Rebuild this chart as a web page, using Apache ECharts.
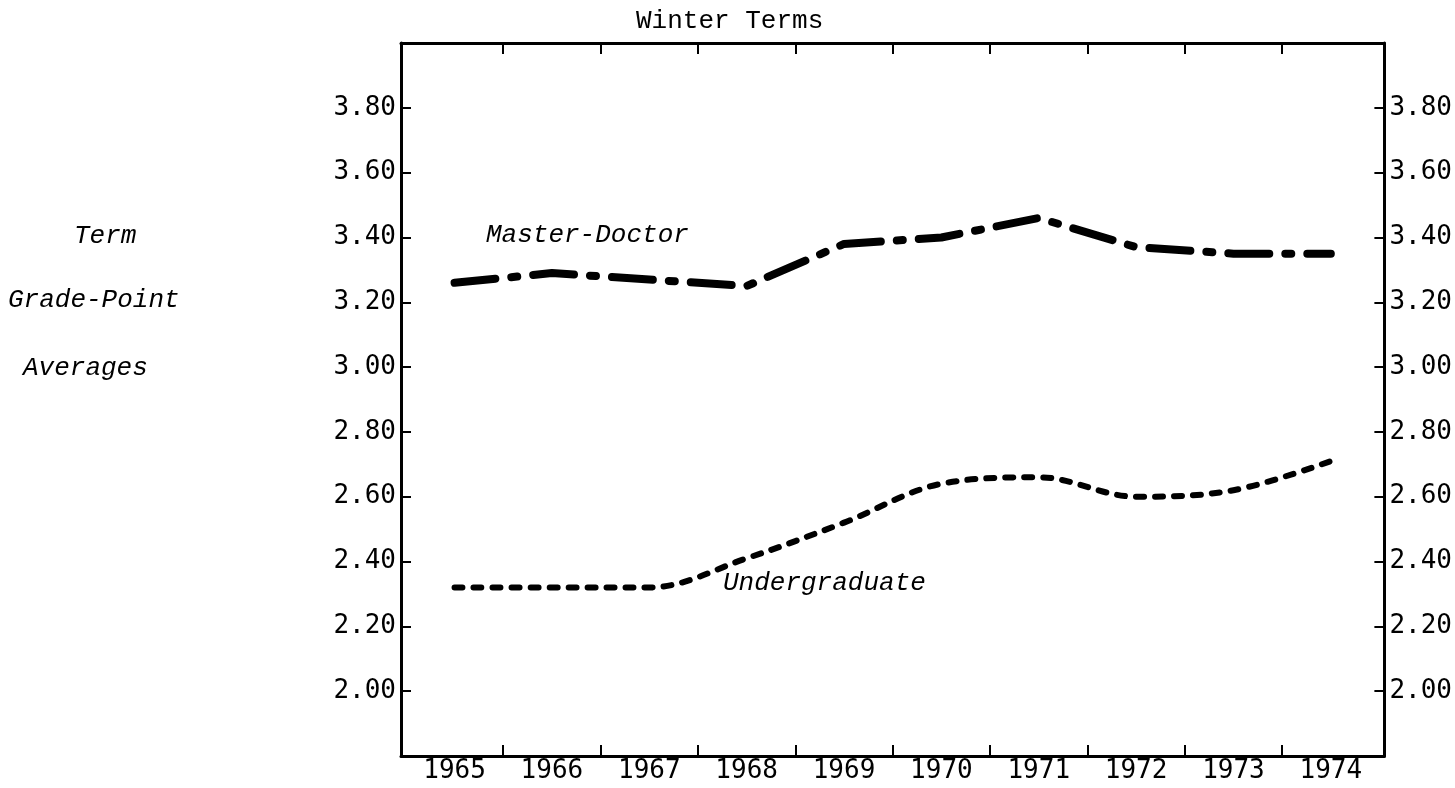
<!DOCTYPE html>
<html>
<head>
<meta charset="utf-8">
<title>Winter Terms</title>
<script src="https://cdn.jsdelivr.net/npm/echarts@6/dist/echarts.min.js"></script>
<style>
  html, body { margin: 0; padding: 0; background: #fff; }
  #chart { width: 1455px; height: 788px; }
</style>
</head>
<body>
<div id="chart"></div>
<script>
// years on the x axis
const years = [1965, 1966, 1967, 1968, 1969, 1970, 1971, 1972, 1973, 1974];
// term grade-point averages
const masterDoctor = [3.26, 3.29, 3.27, 3.25, 3.38, 3.40, 3.46, 3.37, 3.35, 3.35];
const undergraduate = [2.32, 2.32, 2.32, 2.41, 2.52, 2.64, 2.66, 2.60, 2.62, 2.71];
// tick labels
const gpaTicks = [2.0, 2.2, 2.4, 2.6, 2.8, 3.0, 3.2, 3.4, 3.6, 3.8];
const yearTicks = [1965.5, 1966.5, 1967.5, 1968.5, 1969.5, 1970.5, 1971.5, 1972.5, 1973.5];

const mono = 'DejaVu Sans Mono';
const type = 'Liberation Mono';

let chart = echarts.init(document.getElementById('chart'));

// shared look of the four frame axes
const frameLine = { show: true, lineStyle: { color: '#000', width: 3 } };

const xBase = {
  type: 'value',
  min: 1964.45,
  max: 1974.55,
  axisLine: frameLine,
  splitLine: { show: false },
  axisTick: {
    show: true, inside: true, length: 11,
    customValues: yearTicks,
    lineStyle: { color: '#000', width: 2 }
  }
};

const yBase = {
  type: 'value',
  min: 1.8,
  max: 4.0,
  interval: 0.2,
  axisLine: frameLine,
  splitLine: { show: false },
  axisTick: {
    show: true, inside: true, length: 10,
    customValues: gpaTicks,
    lineStyle: { color: '#000', width: 2 }
  },
  axisLabel: {
    customValues: gpaTicks,
    formatter: v => v.toFixed(2),
    color: '#000', fontFamily: mono, fontSize: 26, margin: 5
  }
};

const italic = (txt, x, y) => ({
  type: 'text', left: x, top: y,
  style: { text: txt, fill: '#000', font: 'italic 26px "Liberation Mono"' }
});

chart.setOption({
  animation: false,
  backgroundColor: '#fff',
  grid: { left: 401, right: 70, top: 43, bottom: 32 },
  xAxis: [
    Object.assign({}, xBase, {
      position: 'bottom',
      axisLabel: {
        customValues: years,
        formatter: v => String(Math.round(v)),
        color: '#000', fontFamily: mono, fontSize: 26, margin: 2
      }
    }),
    Object.assign({}, xBase, { position: 'top', axisLabel: { show: false } })
  ],
  yAxis: [
    Object.assign({}, yBase, { position: 'left' }),
    Object.assign({}, yBase, { position: 'right' })
  ],
  series: [
    {
      name: 'Master-Doctor',
      type: 'line',
      symbol: 'none',
      data: years.map((y, i) => [y, masterDoctor[i]]),
      lineStyle: { color: '#000', width: 8, type: [41, 16, 6, 16], cap: 'round', join: 'round' }
    },
    {
      name: 'Undergraduate',
      type: 'line',
      symbol: 'none',
      smooth: 0.35,
      data: years.map((y, i) => [y, undergraduate[i]]),
      lineStyle: { color: '#000', width: 6, type: [8, 11], cap: 'round', join: 'round' }
    }
  ],
  graphic: [
    {
      type: 'text', left: 636, top: 8,
      style: { text: 'Winter Terms', fill: '#000', font: '26px "' + type + '"' }
    },
    italic('Master-Doctor', 486, 222),
    italic('Undergraduate', 723, 570),
    italic('Term', 74, 223),
    italic('Grade-Point', 8, 287),
    italic('Averages', 23, 355)
  ]
});
</script>
</body>
</html>
